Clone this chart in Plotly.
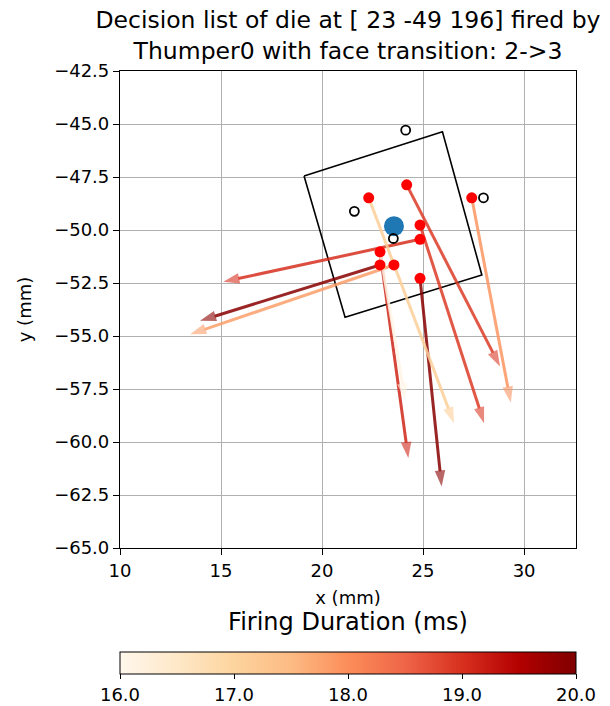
import plotly.graph_objects as go
from plotly.colors import sample_colorscale

# Die outline (corners, closed polygon) and centre
die_x = [19.11, 25.96, 27.91, 21.14, 19.11]
die_y = [-47.45, -45.37, -52.12, -54.12, -47.45]
die_center_x = [23.56]
die_center_y = [-49.82]

# Reference marks around the die
ref_x = [24.14, 21.60, 23.53, 27.99]
ref_y = [-45.29, -49.12, -50.40, -48.48]

# Decision arrows: start, end and firing duration (ms)
arrow_x0 = [24.85, 22.87, 23.56, 22.87, 24.85, 22.31, 24.85, 24.19, 27.41, 22.87]
arrow_y0 = [-50.44, -51.65, -51.65, -51.03, -52.28, -48.48, -49.77, -47.87, -48.48, -51.03]
arrow_x1 = [15.11, 13.96, 13.47, 24.27, 25.92, 26.53, 28.02, 28.81, 29.34, 24.11]
arrow_y1 = [-52.44, -54.28, -54.92, -60.76, -62.10, -59.11, -59.11, -56.44, -58.14, -58.00]
durations = [19.0, 19.9, 17.8, 19.1, 19.9, 17.1, 18.9, 18.9, 17.9, 16.1]

dur_min, dur_max = 16.0, 20.0
x_ticks = [10, 15, 20, 25, 30]
y_ticks = [-65.0, -62.5, -60.0, -57.5, -55.0, -52.5, -50.0, -47.5, -45.0, -42.5]
cbar_ticks = [16.0, 17.0, 18.0, 19.0, 20.0]

FONT = "DejaVu Sans"


def minus(v):
    return f"{v:.1f}".replace("-", "\u2212")


fig = go.Figure()

# die outline
fig.add_trace(go.Scatter(x=die_x, y=die_y, mode="lines",
                         line=dict(color="black", width=1.6),
                         hoverinfo="skip", showlegend=False))

# arrows coloured by firing duration
for x0, y0, x1, y1, d in zip(arrow_x0, arrow_y0, arrow_x1, arrow_y1, durations):
    t = (d - dur_min) / (dur_max - dur_min)
    col = sample_colorscale("OrRd", [t])[0]
    fig.add_trace(go.Scatter(
        x=[x0, x1], y=[y0, y1], mode="lines+markers",
        line=dict(color=col, width=3),
        marker=dict(symbol="arrow", size=[0, 17], angleref="previous",
                    color=col, line=dict(width=0)),
        opacity=0.85, hoverinfo="skip", showlegend=False))

# arrow origins
starts = sorted(set(zip(arrow_x0, arrow_y0)))
fig.add_trace(go.Scatter(x=[s[0] for s in starts], y=[s[1] for s in starts],
                         mode="markers",
                         marker=dict(color="red", size=11, line=dict(width=0)),
                         hoverinfo="skip", showlegend=False))

# die centre
fig.add_trace(go.Scatter(x=die_center_x, y=die_center_y, mode="markers",
                         marker=dict(color="#1f77b4", size=20, line=dict(width=0)),
                         hoverinfo="skip", showlegend=False))

# reference marks
fig.add_trace(go.Scatter(x=ref_x, y=ref_y, mode="markers",
                         marker=dict(symbol="circle-open", color="black", size=9,
                                     line=dict(width=1.8, color="black")),
                         hoverinfo="skip", showlegend=False))

# colour bar for firing duration
fig.add_trace(go.Scatter(
    x=[None], y=[None], mode="markers",
    marker=dict(color=[dur_min], cmin=dur_min, cmax=dur_max, colorscale="OrRd",
                showscale=True,
                colorbar=dict(
                    orientation="h", x=0.5, xanchor="center",
                    y=-0.1585, yanchor="top", ypad=0, xpad=0,
                    lenmode="pixels", len=456, thickness=22,
                    outlinecolor="black", outlinewidth=1,
                    tickvals=cbar_ticks, tickformat=".1f",
                    ticks="outside", ticklen=5, tickcolor="black",
                    tickfont=dict(family=FONT, size=18, color="black"),
                    title=dict(text="Firing Duration (ms)", side="top",
                               font=dict(family=FONT, size=24, color="black")))),
    hoverinfo="skip", showlegend=False))

axis_common = dict(
    showgrid=True, gridcolor="#b0b0b0", gridwidth=1, zeroline=False,
    showline=True, linecolor="black", linewidth=1.2, mirror=True,
    ticks="outside", ticklen=6, tickcolor="black",
    tickfont=dict(family=FONT, size=18, color="black"),
)

fig.update_layout(
    width=610, height=706,
    margin=dict(l=120, r=34, t=71, b=158, autoexpand=False),
    paper_bgcolor="white", plot_bgcolor="white",
    font=dict(family=FONT, color="black"),
    title=dict(text="Decision list of die at [ 23 -49 196] fired by<br>Thumper0 with face transition: 2->3",
               x=0.5, xref="paper", xanchor="center",
               y=1 - 28 / 706, yref="container", yanchor="middle",
               font=dict(family=FONT, size=23.5, color="black")),
    xaxis=dict(range=[10, 32.57], tickvals=x_ticks,
               title=dict(text="x (mm)", font=dict(family=FONT, size=18), standoff=11),
               **axis_common),
    yaxis=dict(range=[-65, -42.5], tickvals=y_ticks,
               ticktext=[minus(v) for v in y_ticks],
               title=dict(text="y (mm)", font=dict(family=FONT, size=18), standoff=17),
               **axis_common),
)

fig.write_html("out.html")
